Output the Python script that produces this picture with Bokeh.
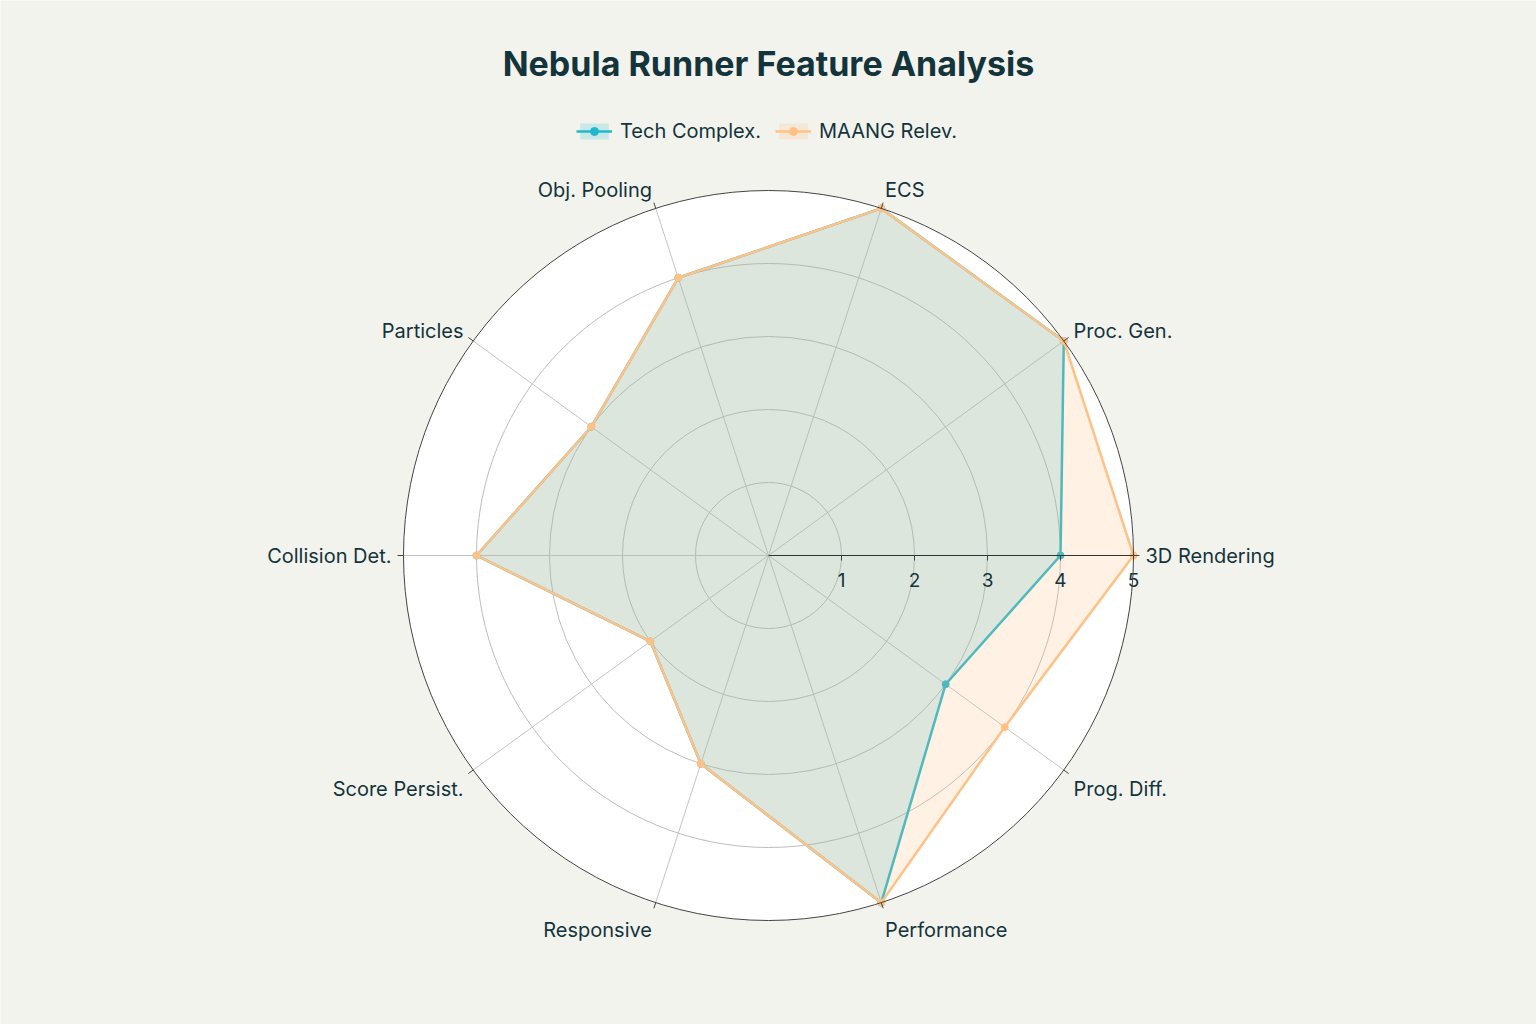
import numpy as np
from bokeh.plotting import figure
from bokeh.models import Range1d, Legend, LegendItem, Label
from bokeh.embed import file_html
from bokeh.resources import INLINE

# ---------------- data ----------------
title_text = "Nebula Runner Feature Analysis"
categories = ["3D Rendering", "Proc. Gen.", "ECS", "Obj. Pooling", "Particles",
              "Collision Det.", "Score Persist.", "Responsive", "Performance", "Prog. Diff."]
tech_complex = [4, 5, 5, 4, 3, 4, 2, 3, 5, 3]
maang_relev = [5, 5, 5, 4, 3, 4, 2, 3, 5, 4]
series_names = ["Tech Complex.", "MAANG Relev."]
radial_ticks = [1, 2, 3, 4, 5]

# ---------------- style ----------------
W, H = 1536, 1024
S = 73.0            # pixels per radial unit
CX, CY = 768, 555   # centre in pixels (from top-left)
BG = "#f3f3ee"
TXT = "#13343b"
FONT = "Inter"
TEAL = "#1FB8CD"
ORANGE = "#FFC185"
RMAX = max(radial_ticks)

p = figure(width=W, height=H,
           x_range=Range1d(-CX / S, (W - CX) / S),
           y_range=Range1d(-(H - CY) / S, CY / S),
           output_backend="svg", toolbar_location=None,
           x_axis_location=None, y_axis_location=None,
           min_border=0, background_fill_color=BG, border_fill_color=BG,
           outline_line_color=None)
p.grid.visible = False

n = len(categories)
theta = np.deg2rad(np.arange(n) * 360.0 / n)
cos, sin = np.cos(theta), np.sin(theta)

# polar background
p.circle(x=[0], y=[0], radius=RMAX, fill_color="white", line_color=None)
# grid rings
p.circle(x=[0] * (len(radial_ticks) - 1), y=[0] * (len(radial_ticks) - 1),
         radius=radial_ticks[:-1], fill_color=None, line_color="#bdbdbd", line_width=1)
# spokes
p.segment(x0=[0] * n, y0=[0] * n, x1=list(RMAX * cos), y1=list(RMAX * sin),
          line_color="#c4c4c4", line_width=1)

# series
def closed(vals):
    r = np.array(vals + vals[:1], dtype=float)
    t = np.concatenate([theta, theta[:1]])
    return list(r * np.cos(t)), list(r * np.sin(t))

renderers = []
for vals, col, fa in [(tech_complex, TEAL, 0.2), (maang_relev, ORANGE, 0.22)]:
    xs, ys = closed(vals)
    pr = p.patch(xs, ys, fill_color=col, fill_alpha=fa, line_color=None)
    lr = p.line(xs, ys, line_color=col, line_width=2.5)
    sr = p.scatter(xs[:-1], ys[:-1], size=7, fill_color=col, line_color=col)
    renderers.append([pr, lr, sr])

# radial axis line and ticks
p.segment(x0=[0], y0=[0], x1=[RMAX], y1=[0], line_color="#333333", line_width=1)
p.segment(x0=radial_ticks, y0=[0] * len(radial_ticks), x1=radial_ticks,
          y1=[-5 / S] * len(radial_ticks), line_color="#444444", line_width=1)
p.text(x=radial_ticks, y=[0] * len(radial_ticks), text=[str(t) for t in radial_ticks],
       y_offset=24, text_align="center", text_baseline="middle",
       text_font={"value": FONT}, text_font_size="19px", text_color=TXT)

# outer circle + angular ticks
p.circle(x=[0], y=[0], radius=RMAX, fill_color=None, line_color="#444444", line_width=1)
tick_len = 6 / S
p.segment(x0=list(RMAX * cos), y0=list(RMAX * sin),
          x1=list((RMAX + tick_len) * cos), y1=list((RMAX + tick_len) * sin),
          line_color="#444444", line_width=1)

# category labels
for align, mask in [("left", cos > 0.01), ("right", cos < -0.01), ("center", np.abs(cos) <= 0.01)]:
    idx = np.where(mask)[0]
    if len(idx) == 0:
        continue
    xo = [12 * cos[i] for i in idx]
    yo = [0 if abs(sin[i]) < 0.01 else (-24 * sin[i] + 4.5) for i in idx]
    p.text(x=[RMAX * cos[i] for i in idx], y=[RMAX * sin[i] for i in idx],
           text=[categories[i] for i in idx], x_offset=xo, y_offset=yo,
           text_align=align, text_baseline="middle",
           text_font={"value": FONT}, text_font_size="20px", text_color=TXT)

# title
p.add_layout(Label(x=W / 2, y=H - 63, x_units="screen", y_units="screen", text=title_text,
                   text_align="center", text_baseline="middle", text_font=FONT,
                   text_font_size="34px", text_font_style="bold", text_color=TXT))

# legend
legend = Legend(items=[LegendItem(label=series_names[i], renderers=renderers[i]) for i in range(2)],
                orientation="horizontal", location=(576, 881),
                background_fill_alpha=0, border_line_color=None, padding=0, margin=0,
                spacing=14, glyph_width=36, glyph_height=20, label_standoff=8,
                label_text_font=FONT, label_text_font_size="20px", label_text_color=TXT)
p.add_layout(legend)

open("out.html", "w").write(file_html(p, INLINE))
